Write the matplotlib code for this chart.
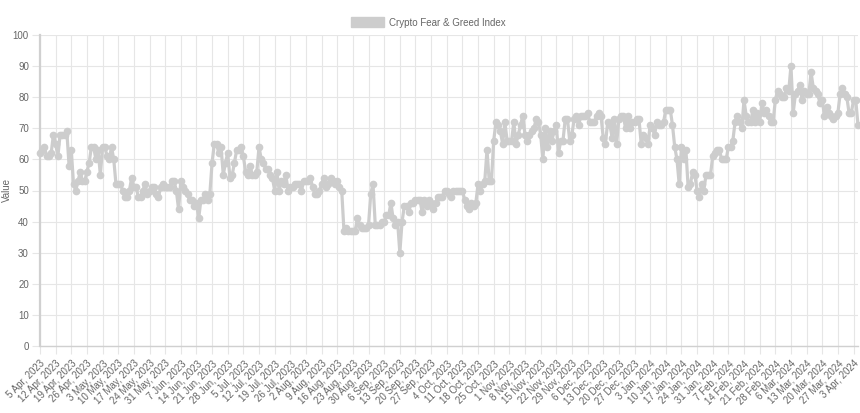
import matplotlib
matplotlib.use("Agg")
import matplotlib.pyplot as plt
from matplotlib.patches import Patch
import numpy as np
import pandas as pd

# daily values, 5 Apr 2023 -> 5 Apr 2024
start_date = "2023-04-05"
values = [
    62, 63, 64, 61, 61, 62, 68, 65, 61, 68,
    68, 68, 69, 58, 63, 52, 50, 53, 56, 53,
    53, 56, 59, 64, 64, 60, 63, 55, 64, 64,
    61, 60, 64, 60, 52, 52, 52, 50, 48, 48,
    50, 54, 51, 51, 48, 48, 50, 52, 49, 50,
    51, 51, 49, 48, 51, 52, 51, 51, 51, 53,
    53, 50, 44, 53, 51, 50, 49, 47, 47, 45,
    46, 41, 47, 47, 49, 47, 49, 59, 65, 65,
    62, 64, 55, 59, 62, 54, 55, 59, 63, 63,
    64, 61, 56, 55, 58, 55, 55, 56, 64, 60,
    59, 57, 57, 55, 54, 50, 56, 50, 53, 52,
    55, 50, 51, 51, 52, 52, 52, 50, 53, 53,
    53, 54, 51, 49, 49, 50, 52, 54, 51, 52,
    54, 53, 52, 53, 51, 50, 37, 38, 37, 37,
    37, 37, 41, 39, 38, 38, 38, 39, 49, 52,
    39, 39, 39, 40, 40, 42, 42, 46, 41, 39,
    40, 30, 40, 45, 45, 43, 46, 46, 47, 47,
    47, 43, 47, 45, 47, 46, 44, 46, 48, 48,
    48, 50, 50, 49, 48, 50, 50, 50, 50, 50,
    47, 45, 44, 46, 45, 46, 52, 50, 52, 53,
    63, 53, 53, 66, 72, 71, 69, 65, 72, 66,
    66, 66, 72, 65, 68, 71, 74, 68, 66, 68,
    69, 70, 73, 72, 68, 60, 70, 64, 69, 66,
    69, 71, 62, 66, 66, 73, 73, 66, 68, 73,
    74, 71, 74, 74, 74, 75, 72, 72, 72, 74,
    75, 74, 67, 65, 72, 71, 67, 73, 65, 73,
    74, 74, 70, 74, 70, 72, 72, 73, 73, 65,
    68, 67, 65, 71, 70, 68, 72, 71, 71, 72,
    76, 76, 76, 71, 64, 60, 52, 64, 60, 63,
    51, 52, 56, 55, 50, 48, 52, 50, 55, 55,
    55, 61, 62, 63, 63, 60, 60, 60, 64, 64,
    66, 72, 74, 72, 70, 79, 74, 72, 72, 76,
    72, 75, 72, 78, 75, 76, 74, 72, 72, 79,
    82, 81, 80, 80, 83, 82, 90, 75, 81, 82,
    84, 79, 82, 81, 81, 88, 83, 82, 81, 78,
    79, 74, 77, 75, 74, 73, 74, 75, 81, 83,
    81, 80, 75, 75, 79, 79, 71,
]
dates = pd.date_range(start_date, periods=len(values), freq="D")
labels = [f"{d.day} {d.strftime('%b')}, {d.year}" for d in dates]

plt.rcParams["font.family"] = ["Liberation Sans", "DejaVu Sans"]
line_col = "#cdcdcd"
text_col = "#666666"
grid_col = "#e6e6e6"
fs = 7

fig = plt.figure(figsize=(8.6, 4.13), dpi=100)
ax = fig.add_axes([40 / 860, 67 / 413, 818 / 860, 311 / 413])

x = np.arange(len(values))
ax.plot(x, values, color=line_col, lw=2.3, marker="o", ms=4.5,
        markerfacecolor=line_col, markeredgecolor=line_col, zorder=3,
        clip_on=False)

ax.set_xlim(0, len(values) - 1)
ax.set_ylim(0, 100)
ax.set_yticks(range(0, 101, 10))
ax.set_xticks(x[::7])
ax.set_xticklabels(labels[::7], rotation=45, ha="right",
                   rotation_mode="anchor", fontsize=fs, color=text_col)
ax.tick_params(axis="y", labelsize=fs, colors=grid_col, labelcolor=text_col,
               length=6, width=0.8, pad=2)
ax.tick_params(axis="x", colors=grid_col, labelcolor=text_col, length=6,
               width=0.8, pad=3)
ax.grid(True, color=grid_col, lw=0.8)
ax.set_axisbelow(True)
for side in ["top", "right"]:
    ax.spines[side].set_visible(False)
ax.spines["left"].set_color("#d0d0d0")
ax.spines["left"].set_linewidth(1.6)
ax.spines["bottom"].set_color("#d0d0d0")
ax.spines["bottom"].set_linewidth(1.0)

ax.set_ylabel("Value", fontsize=fs, color=text_col)
ax.yaxis.set_label_coords(-28 / 818, 0.5)

fig.legend(handles=[Patch(facecolor=line_col, edgecolor=line_col)],
           labels=["Crypto Fear & Greed Index"], loc="center",
           bbox_to_anchor=(0.498, 0.9455), frameon=False, fontsize=fs,
           labelcolor=text_col, handlelength=3.4, handleheight=1.15,
           handletextpad=0.45)

fig.savefig("out.png", dpi=100)
